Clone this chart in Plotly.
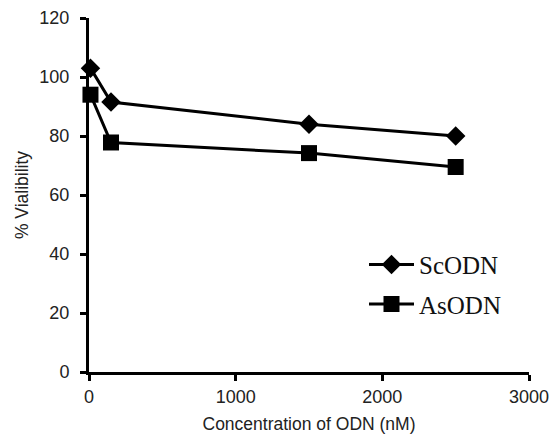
import plotly.graph_objects as go

conc = [10, 150, 1500, 2500]
sc_odn = [103, 91.5, 84, 80]
as_odn = [94, 77.8, 74.2, 69.5]
series_names = ["ScODN", "AsODN"]
x_ticks = [0, 1000, 2000, 3000]
y_ticks = [0, 20, 40, 60, 80, 100, 120]

fig = go.Figure()
fig.add_trace(go.Scatter(
    x=conc, y=sc_odn, name=series_names[0], mode="lines+markers",
    line=dict(color="black", width=3),
    marker=dict(symbol="diamond", size=15, color="black"),
    legendgroup="a", cliponaxis=False,
))
fig.add_trace(go.Scatter(
    x=conc, y=as_odn, name=series_names[1], mode="lines+markers",
    line=dict(color="black", width=3),
    marker=dict(symbol="square", size=16, color="black"),
    legendgroup="b", cliponaxis=False,
))

fig.update_layout(
    width=549, height=426,
    margin=dict(l=81, r=28, t=10, b=62),
    paper_bgcolor="white", plot_bgcolor="white",
    font=dict(family="Liberation Sans, Arial, sans-serif", size=18, color="#222"),
    showlegend=True,
    legend=dict(
        x=0.625, y=0.368, xanchor="left", yanchor="top",
        font=dict(family="Liberation Serif, Times New Roman, serif", size=25, color="#111"),
        traceorder="grouped", tracegroupgap=4, itemwidth=45,
        bgcolor="rgba(0,0,0,0)",
    ),
    xaxis=dict(
        range=[0, 3000], tickvals=x_ticks, showgrid=False, zeroline=False,
        showline=True, linecolor="black", linewidth=3, automargin=False,
        ticks="outside", ticklen=6, tickwidth=3, tickcolor="black",
        ticklabelstandoff=0, ticklabeloverflow="allow",
        title=dict(text="Concentration of ODN (nM)", font=dict(size=17.5), standoff=13),
    ),
    yaxis=dict(
        range=[0, 120], tickvals=y_ticks, showgrid=False, zeroline=False,
        showline=True, linecolor="black", linewidth=3, automargin=False,
        ticks="outside", ticklen=6, tickwidth=3, tickcolor="black",
        ticklabelstandoff=7, ticklabeloverflow="allow",
        title=dict(text="% Vialibility", font=dict(size=17.5), standoff=7),
    ),
)

fig.write_html("out.html")
